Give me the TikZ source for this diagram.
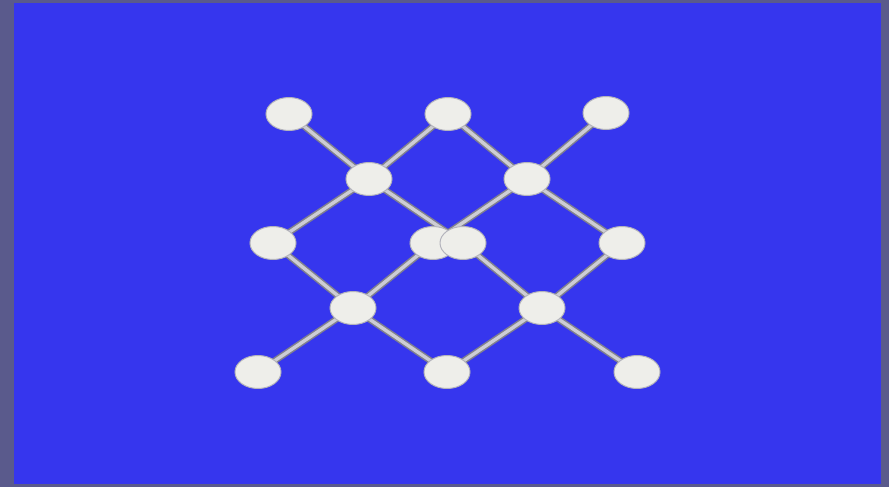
\documentclass[tikz,border=0pt]{standalone}
\usepackage{tikz}
\usetikzlibrary{shapes.geometric, backgrounds}
\definecolor{cFrame}{HTML}{5A5A8C}
\definecolor{cBoard}{HTML}{3636EE}
\definecolor{cBall} {HTML}{EEEEEA}
\definecolor{cRim}  {HTML}{B4B4BC}
\definecolor{cRod}  {HTML}{80808E}
\definecolor{cShine}{HTML}{CDCDD4}

\begin{document}
\begin{tikzpicture}[x=1pt, y=-1pt,
    ball/.style={ellipse, draw=cRim, fill=cBall, line width=1pt,
                 minimum width=46pt, minimum height=33pt, inner sep=0pt},
    rod/.style={draw=cRod, line width=1.5pt, double=cShine, double distance=3.4pt}]
        \useasboundingbox (0,0) rectangle (889,487);
        \begin{scope}[on background layer]
          \fill[cFrame] (0,0) rectangle (889,487);
          \fill[cBoard] (14,3) rectangle (881,484);
        \end{scope}
        % balls, row by row
        \foreach \n/\x/\y in {t1/289/114, t2/448/114, t3/606/113,
                              m1/369/179, m2/527/179,
                              c1/273/243, c2/433/243, c3/463/243, c4/622/243,
                              b1/353/308, b2/542/308,
                              d1/258/372, d2/447/372, d3/637/372}
          \node[ball] (\n) at (\x,\y) {};
        % rods
        \begin{scope}[on background layer]
          \foreach \a/\b in {t1/m1, t2/m1, t2/m2, t3/m2,
                             m1/c1, m1/c3, m2/c2, m2/c4,
                             c1/b1, c2/b1, c3/b2, c4/b2,
                             b1/d1, b1/d2, b2/d2, b2/d3}
            \draw[rod] (\a.center) -- (\b.center);
        \end{scope}
      \end{tikzpicture}
\end{document}
